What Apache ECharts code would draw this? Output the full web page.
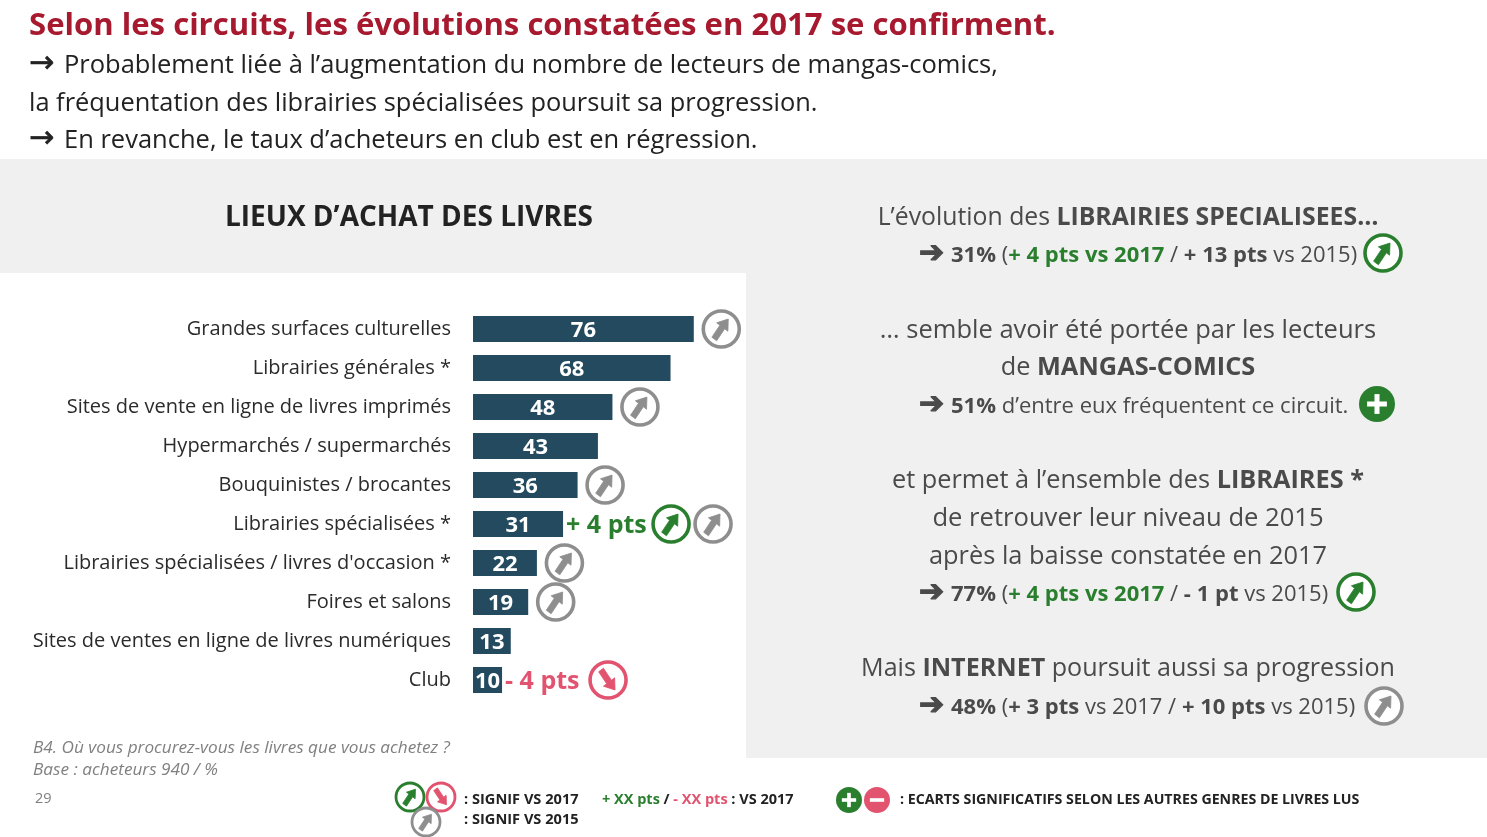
<!DOCTYPE html>
<html>
<head>
<meta charset="utf-8">
<title>Lieux d'achat des livres</title>
<script src="https://cdn.jsdelivr.net/npm/echarts@6/dist/echarts.min.js"></script>
<style>
html, body { margin: 0; padding: 0; background: #fff; }
#chart { width: 1487px; height: 837px; }
</style>
</head>
<body>
<div id="chart"></div>
<script>
var categories = ['Grandes surfaces culturelles', 'Librairies générales *', 'Sites de vente en ligne de livres imprimés',
  'Hypermarchés / supermarchés', 'Bouquinistes / brocantes', 'Librairies spécialisées *',
  "Librairies spécialisées / livres d'occasion *", 'Foires et salons',
  'Sites de ventes en ligne de livres numériques', 'Club'];
var values = [76, 68, 48, 43, 36, 31, 22, 19, 13, 10];
var delta2017 = [0, 0, 0, 0, 0, 4, 0, 0, 0, -4];
var signif2015 = [1, 0, 1, 0, 1, 1, 1, 1, 0, 0];

var FONT = '"Open Sans"';
var BAR = '#234a5e', GREEN = '#2a7f2e', PINK = '#e2536f', GREY = '#8e8e8e', DARK = '#4a4a4a';

// round badge with an arrow, dir 1 = up right, -1 = down right
function badge(cx, cy, r, color, dir) {
  var k = r / 18;
  var pts = [[7, -10], [6.6, 2.2], [3.4, -0.2], [-4.6, 11.8], [-9.4, 8.2], [-1.4, -3.8], [-4.6, -6.2]];
  return {
    type: 'group', x: cx, y: cy,
    children: [
      { type: 'circle', shape: { cx: 0, cy: 0, r: r }, style: { fill: '#fff', stroke: color, lineWidth: 3.6 * k } },
      { type: 'polygon', shape: { points: pts.map(function (p) { return [p[0] * k, p[1] * k * dir]; }) }, style: { fill: color, stroke: color, lineWidth: 0.8 } }
    ]
  };
}

function plusMinus(cx, cy, r, color, plus) {
  var kids = [
    { type: 'circle', shape: { cx: 0, cy: 0, r: r }, style: { fill: color } },
    { type: 'rect', shape: { x: -r * 0.55, y: -r * 0.14, width: r * 1.1, height: r * 0.28 }, style: { fill: '#fff' } }
  ];
  if (plus) kids.push({ type: 'rect', shape: { x: -r * 0.14, y: -r * 0.55, width: r * 0.28, height: r * 1.1 }, style: { fill: '#fff' } });
  return { type: 'group', x: cx, y: cy, children: kids };
}

function line(x, y, text, size, color, align, rich) {
  return {
    type: 'text', x: x, y: y + 2,
    style: { text: text, fontFamily: FONT, fontSize: size, fill: color, align: align || 'left', verticalAlign: 'middle', rich: rich }
  };
}

function arrow(x, y, glyph, size, color, weight) {
  return { type: 'text', x: x, y: y, style: { text: glyph, fontFamily: 'DejaVu Sans', fontSize: size, fill: color, stroke: color, lineWidth: weight, verticalAlign: 'middle' } };
}

// rich styles for the right hand panel
function panelRich(size) {
  return {
    n: { fontFamily: FONT, fontSize: size, fill: DARK },
    b: { fontFamily: FONT, fontSize: size, fill: DARK, fontWeight: 'bold' },
    g: { fontFamily: FONT, fontSize: size, fill: GREEN, fontWeight: 'bold' }
  };
}
var R2 = panelRich(22);

var graphics = [
  { type: 'rect', silent: true, z: -5, shape: { x: 0, y: 159, width: 1487, height: 599 }, style: { fill: '#f0f0f0' } },
  { type: 'rect', silent: true, z: -4, shape: { x: 0, y: 273, width: 746, height: 564 }, style: { fill: '#fff' } },
  { type: 'rect', silent: true, z: -4, shape: { x: 0, y: 758, width: 1487, height: 79 }, style: { fill: '#fff' } },

  { type: 'text', x: 29, y: 26, style: { text: 'Selon les circuits, les évolutions constatées en 2017 se confirment.', fontFamily: FONT, fontWeight: 'bold', fontSize: 31.1, fill: '#a6192e', verticalAlign: 'middle' } },
  arrow(29, 64, '→', 30, '#222', 0.7),
  line(64, 64, 'Probablement liée à l’augmentation du nombre de lecteurs de mangas-comics,', 25.5, '#222'),
  line(29, 102, 'la fréquentation des librairies spécialisées poursuit sa progression.', 25.4, '#222'),
  arrow(29, 139, '→', 30, '#222', 0.7),
  line(64, 139, 'En revanche, le taux d’acheteurs en club est en régression.', 25.5, '#222'),

  { type: 'text', x: 409, y: 218, style: { text: 'LIEUX D’ACHAT DES LIVRES', fontFamily: FONT, fontWeight: 'bold', fontSize: 28, fill: '#222', align: 'center', verticalAlign: 'middle' } },

  line(1128, 216, '{n|L’évolution des }{b|LIBRAIRIES SPECIALISEES…}', 25, DARK, 'center', panelRich(24.8)),
  arrow(919, 254, '➔', 30, DARK, 1.2),
  line(951, 254, '{b|31%}{n| (}{g|+ 4 pts vs 2017}{n| / }{b|+ 13 pts}{n| vs 2015)}', 22, DARK, 'left', R2),
  badge(1383, 253, 18, GREEN, 1),
  line(1128, 329, '{n|… semble avoir été portée par les lecteurs}', 25, DARK, 'center', panelRich(25.5)),
  line(1128, 366, '{n|de }{b|MANGAS-COMICS}', 25, DARK, 'center', panelRich(25.3)),
  arrow(919, 405, '➔', 30, DARK, 1.2),
  line(951, 405, '{b|51%}{n| d’entre eux fréquentent ce circuit.}', 22, DARK, 'left', R2),
  plusMinus(1377, 404, 18, GREEN, true),
  line(1128, 479, '{n|et permet à l’ensemble des }{b|LIBRAIRES *}', 25, DARK, 'center', panelRich(25.3)),
  line(1128, 517, '{n|de retrouver leur niveau de 2015}', 25, DARK, 'center', panelRich(25.6)),
  line(1128, 555, '{n|après la baisse constatée en 2017}', 25, DARK, 'center', panelRich(25.4)),
  arrow(919, 593, '➔', 30, DARK, 1.2),
  line(951, 593, '{b|77%}{n| (}{g|+ 4 pts vs 2017}{n| / }{b|- 1 pt}{n| vs 2015)}', 22, DARK, 'left', R2),
  badge(1356, 592, 18, GREEN, 1),
  line(1128, 667, '{n|Mais }{b|INTERNET}{n| poursuit aussi sa progression}', 25, DARK, 'center', panelRich(25.1)),
  arrow(919, 706, '➔', 30, DARK, 1.2),
  line(951, 706, '{b|48%}{n| (}{b|+ 3 pts}{n| vs 2017 / }{b|+ 10 pts}{n| vs 2015)}', 22, DARK, 'left', R2),
  badge(1384, 706, 18, GREY, 1),

  { type: 'text', x: 33, y: 748, style: { text: 'B4. Où vous procurez-vous les livres que vous achetez ?', fontFamily: FONT, fontStyle: 'italic', fontSize: 17.2, fill: '#808080', verticalAlign: 'middle' } },
  { type: 'text', x: 33, y: 770, style: { text: 'Base : acheteurs 940 / %', fontFamily: FONT, fontStyle: 'italic', fontSize: 17.2, fill: '#808080', verticalAlign: 'middle' } },
  { type: 'text', x: 35, y: 799, style: { text: '29', fontFamily: FONT, fontSize: 14.5, fill: '#808080', verticalAlign: 'middle' } },

  badge(410, 797, 14, GREEN, 1),
  badge(441, 797, 14, PINK, -1),
  badge(426, 822, 14, GREY, 1),
  plusMinus(849, 800, 13, GREEN, true),
  plusMinus(877, 800, 13, PINK, false)
];

function legendRich(size) {
  return {
    k: { fontFamily: FONT, fontSize: size, fontWeight: 'bold', fill: '#222' },
    g: { fontFamily: FONT, fontSize: size, fontWeight: 'bold', fill: GREEN },
    p: { fontFamily: FONT, fontSize: size, fontWeight: 'bold', fill: PINK }
  };
}
graphics.push(
  line(464, 798, '{k|: SIGNIF VS 2017}', 14, '#222', 'left', legendRich(14.6)),
  line(464, 818, '{k|: SIGNIF VS 2015}', 14, '#222', 'left', legendRich(14.6)),
  line(602, 798, '{g|+ XX pts}{k| / }{p|- XX pts}{k| : VS 2017}', 14, '#222', 'left', legendRich(14.5)),
  line(900, 798, '{k|: ECARTS SIGNIFICATIFS SELON LES AUTRES GENRES DE LIVRES LUS}', 14, '#222', 'left', legendRich(14.2))
);

// badges and point differences sit just after the end of each bar
function renderAfterBar(params, api) {
  var i = api.value(1);
  var p = api.coord([api.value(0), i]);
  var d = delta2017[i];
  var kids = [];
  if (d !== 0) {
    var col = d > 0 ? GREEN : PINK;
    kids.push({
      type: 'text', x: p[0] + 3, y: p[1] + 2,
      style: { text: (d > 0 ? '+ ' : '- ') + Math.abs(d) + ' pts', fontFamily: FONT, fontWeight: 'bold', fontSize: 25, fill: col, verticalAlign: 'middle' }
    });
    kids.push(badge(p[0] + (d > 0 ? 108 : 106), p[1], 18, col, d > 0 ? 1 : -1));
  }
  if (signif2015[i]) kids.push(badge(p[0] + (d !== 0 ? 150 : 27.5), p[1], 18, GREY, 1));
  return { type: 'group', children: kids };
}

var chart = echarts.init(document.getElementById('chart'));
chart.setOption({
  animation: false,
  backgroundColor: '#fff',
  grid: { left: 473, top: 309.5, width: 290.5, height: 390 },
  xAxis: { type: 'value', min: 0, max: 100, show: false },
  yAxis: {
    type: 'category', inverse: true, data: categories,
    axisLine: { show: false }, axisTick: { show: false },
    axisLabel: { color: '#2b2b2b', fontFamily: FONT, fontSize: 20, margin: 22, interval: 0, padding: [4, 0, 0, 0] }
  },
  graphic: graphics,
  series: [
    {
      type: 'bar', data: values, barWidth: 26, z: 2,
      itemStyle: { color: BAR },
      label: { show: true, position: 'inside', offset: [0, 2], color: '#fff', fontFamily: FONT, fontWeight: 'bold', fontSize: 22 }
    },
    {
      type: 'custom', renderItem: renderAfterBar, z: 3, silent: true,
      encode: { x: 0, y: 1 },
      data: values.map(function (v, i) { return [v, i]; })
    }
  ]
});
</script>
</body>
</html>
